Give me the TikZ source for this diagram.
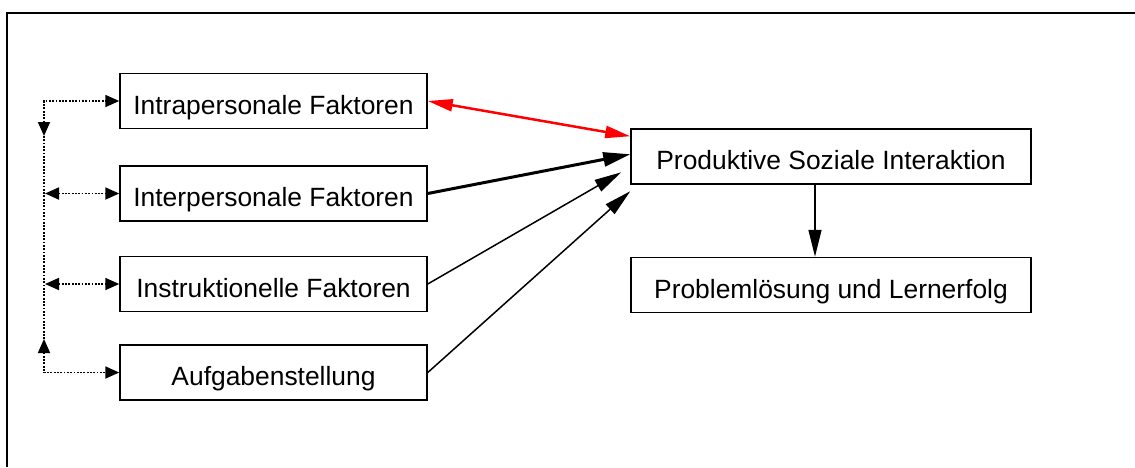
\documentclass[tikz,border=0pt]{standalone}
\usepackage{fontspec}
\setmainfont{Liberation Sans}
\usetikzlibrary{arrows.meta}
\begin{document}
\begin{tikzpicture}[x=1pt,y=-1pt,
  box/.style={draw, line width=1.5pt, inner sep=0pt, minimum height=55pt,
    font=\fontsize{26.4}{30}\selectfont, text height=27.3pt, text depth=0.5pt},
  lbox/.style={box, minimum width=307pt},
  rbox/.style={box, minimum width=400pt},
  dots/.style={line width=1.8pt, dash pattern=on 1.8pt off 1.5pt},
  thin/.style={line width=1.5pt, -{Triangle[length=27pt,width=13pt]}},
]
\useasboundingbox (0,0) rectangle (1135,467);
\draw[line width=2pt] (7,467) -- (7,12.5) -- (1135,12.5);

\node[lbox] (b1) at (273.5,101) {Intrapersonale Faktoren};
\node[lbox] (b2) at (273.5,193.5) {Interpersonale Faktoren};
\node[lbox] (b3) at (273.5,284) {Instruktionelle Faktoren};
\node[lbox] (b4) at (273.5,372.5) {Aufgabenstellung};
\node[rbox] (p) at (831,156.5) {Produktive Soziale Interaktion};
\node[rbox] (l) at (831,285) {Problemlösung und Lernerfolg};

% dotted feedback lines
\coordinate (t1) at (44,136);
\coordinate (t4) at (44,339);
\coordinate (m2) at (45,193.5);
\coordinate (m3) at (45,284);
\draw[dots, {Triangle[length=14pt,width=12pt]}-{Triangle[length=14pt,width=12pt]}] (t1) |- (b1.west);
\draw[dots, {Triangle[length=14pt,width=12pt]}-{Triangle[length=14pt,width=12pt]}] (t4) |- (b4.west);
\draw[dots] (t1) -- (t4);
\draw[dots, {Triangle[length=14pt,width=12pt]}-{Triangle[length=14pt,width=12pt]}] (m2) -- (b2.west);
\draw[dots, {Triangle[length=14pt,width=12pt]}-{Triangle[length=14pt,width=12pt]}] (m3) -- (b3.west);

% arrows to the interaction box
\coordinate (e1) at ([yshift=-8pt]p.north west);
\coordinate (e2) at ([yshift=-26pt]p.north west);
\coordinate (e3) at ([xshift=-9pt,yshift=-44pt]p.north west);
\coordinate (e4) at ([yshift=-63pt]p.north west);
\draw[red, line width=2.5pt, {Triangle[length=25pt,width=12pt]}-{Triangle[length=25pt,width=12pt]}] (b1.east) -- (e1);
\draw[line width=3pt, -{Triangle[length=27pt,width=14pt]}] (b2.east) -- (e2);
\draw[thin] (b3.east) -- (e3);
\draw[thin] (b4.east) -- (e4);

\draw[thin] ([xshift=-16pt]p.south) -- ([xshift=-16pt]l.north);
\end{tikzpicture}
\end{document}
